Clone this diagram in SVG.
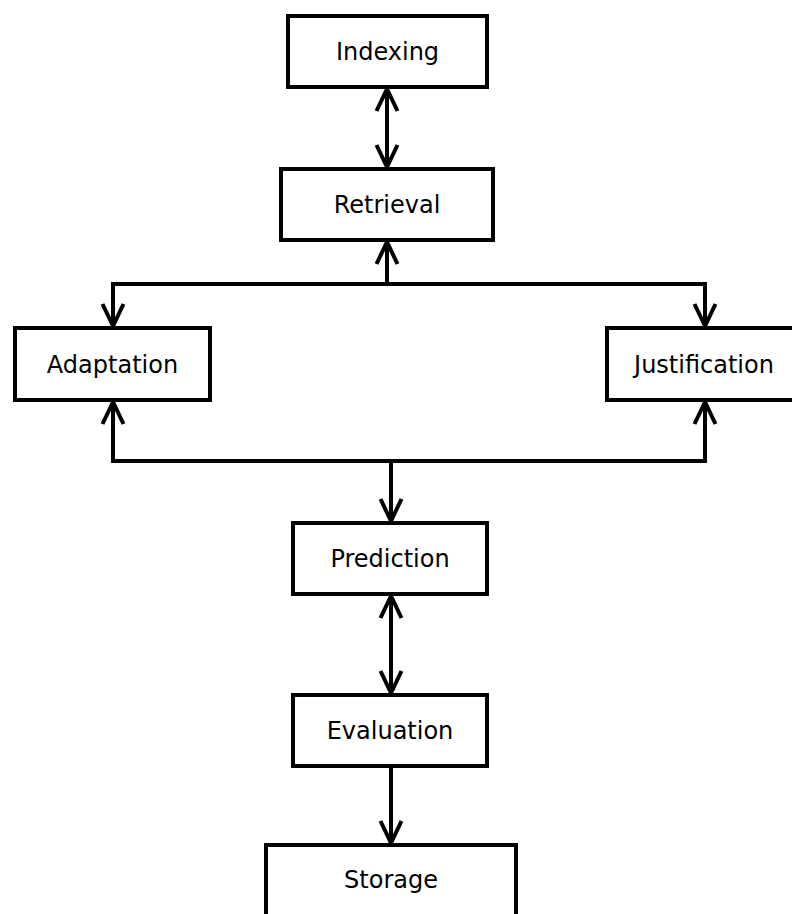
<svg xmlns="http://www.w3.org/2000/svg" width="792" height="914" viewBox="0 0 792 914">
  <style>
    .box { fill: #ffffff; stroke: #000000; stroke-width: 4; }
    .label { font-family: "DejaVu Sans", sans-serif; font-size: 24px; fill: #000000; text-anchor: middle; }
    .wire { fill: none; stroke: #000000; stroke-width: 4; }
  </style>
  <defs>
    <marker id="chevron" viewBox="-26 -14 30 28" markerWidth="30" markerHeight="28" refX="0" refY="0" markerUnits="userSpaceOnUse" orient="auto-start-reverse">
      <path d="M -22 -10.5 L 0 0 L -22 10.5" fill="none" stroke="#000000" stroke-width="4"/>
    </marker>
  </defs>
  <rect width="792" height="914" fill="#ffffff"/>

  <g id="connectors">
    <line class="wire" x1="387" y1="89" x2="387" y2="167" marker-start="url(#chevron)" marker-end="url(#chevron)"/>
    <line class="wire" x1="387" y1="284" x2="387" y2="242" marker-end="url(#chevron)"/>
    <path class="wire" d="M 113 326 V 284 H 705 V 326" marker-start="url(#chevron)" marker-end="url(#chevron)"/>
    <path class="wire" d="M 113 402 V 461 H 705 V 402" marker-start="url(#chevron)" marker-end="url(#chevron)"/>
    <line class="wire" x1="391" y1="461" x2="391" y2="521" marker-end="url(#chevron)"/>
    <line class="wire" x1="391" y1="596" x2="391" y2="693" marker-start="url(#chevron)" marker-end="url(#chevron)"/>
    <line class="wire" x1="391" y1="768" x2="391" y2="843" marker-end="url(#chevron)"/>
  </g>

  <g id="indexing">
    <rect class="box" x="288" y="16" width="199" height="71"/>
    <text class="label" x="387.5" y="60">Indexing</text>
  </g>
  <g id="retrieval">
    <rect class="box" x="281" y="169" width="212" height="71"/>
    <text class="label" x="387" y="213">Retrieval</text>
  </g>
  <g id="adaptation">
    <rect class="box" x="15" y="328" width="195" height="72"/>
    <text class="label" x="112.5" y="372.5">Adaptation</text>
  </g>
  <g id="justification">
    <rect class="box" x="607" y="328" width="200" height="72"/>
    <text class="label" x="704" y="372.5">Justification</text>
  </g>
  <g id="prediction">
    <rect class="box" x="293" y="523" width="194" height="71"/>
    <text class="label" x="390" y="567">Prediction</text>
  </g>
  <g id="evaluation">
    <rect class="box" x="293" y="695" width="194" height="71"/>
    <text class="label" x="390" y="739">Evaluation</text>
  </g>
  <g id="storage">
    <rect class="box" x="266" y="845" width="250" height="100"/>
    <text class="label" x="391" y="888">Storage</text>
  </g>
</svg>
